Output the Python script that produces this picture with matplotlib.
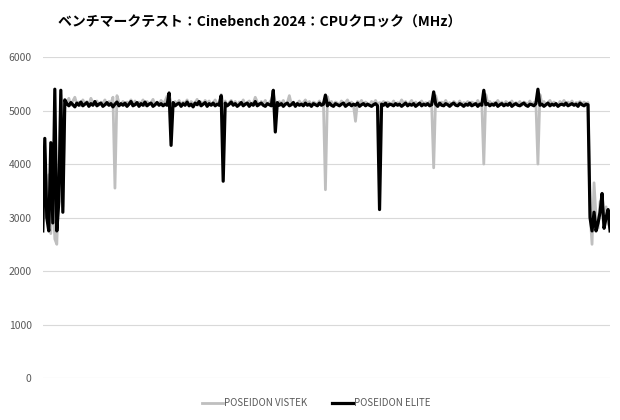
import matplotlib
matplotlib.use('Agg')
import matplotlib.pyplot as plt

plt.rcParams['font.family'] = ['Noto Sans CJK JP', 'DejaVu Sans']

title = 'ベンチマークテスト：Cinebench 2024：CPUクロック（MHz）'
series_names = ['POSEIDON VISTEK', 'POSEIDON ELITE']
yticks = [0, 1000, 2000, 3000, 4000, 5000, 6000]

# CPU clock samples (MHz)
vistek = [
    2800, 4200, 3000, 3800, 2700, 3500, 2600, 2500, 3700, 5300,
    3200, 5200, 5150, 5230, 5100, 5180, 5250, 5120, 5160, 5090,
    5200, 5130, 5170, 5110, 5230, 5150, 5120, 5180, 5100, 5160,
    5140, 5200, 5110, 5170, 5130, 5250, 3550, 5280, 5150, 5120,
    5170, 5100, 5160, 5140, 5200, 5120, 5180, 5110, 5160, 5140,
    5200, 5090, 5170, 5130, 5150, 5210, 5100, 5160, 5120, 5190,
    5140, 5180, 5270, 5300, 5150, 5100, 5170, 5130, 5190, 5110,
    5160, 5140, 5200, 5090, 5170, 5130, 5150, 5210, 5100, 5160,
    5120, 5190, 5140, 5180, 5110, 5150, 5200, 5120, 5160, 5300,
    5140, 5180, 5100, 5150, 5190, 5120, 5170, 5090, 5160, 5130,
    5200, 5110, 5150, 5180, 5120, 5140, 5250, 5160, 5100, 5170,
    5130, 5190, 5110, 5150, 5200, 5320, 5160, 5100, 5170, 5130,
    5190, 5110, 5150, 5280, 5120, 5160, 5090, 5140, 5180, 5120,
    5150, 5200, 5130, 5170, 5100, 5160, 5140, 5120, 5180, 5110,
    5150, 3520, 5260, 5130, 5170, 5100, 5160, 5140, 5110, 5180,
    5130, 5150, 5200, 5120, 5160, 5100, 4800, 5170, 5140, 5190,
    5120, 5160, 5130, 5100, 5170, 5140, 5190, 5110, 5150, 5130,
    5170, 5100, 5160, 5140, 5120, 5180, 5110, 5150, 5130, 5200,
    5140, 5170, 5110, 5150, 5190, 5120, 5160, 5100, 5140, 5180,
    5120, 5150, 5130, 5170, 5100, 3930, 5280, 5140, 5110, 5160,
    5130, 5190, 5120, 5150, 5100, 5170, 5140, 5120, 5180, 5110,
    5150, 5130, 5170, 5100, 5160, 5140, 5120, 5190, 5110, 5150,
    4000, 5300, 5140, 5170, 5110, 5150, 5130, 5190, 5120, 5160,
    5100, 5170, 5140, 5120, 5180, 5110, 5150, 5130, 5170, 5100,
    5160, 5140, 5120, 5180, 5110, 5150, 5130, 4000, 5300, 5140,
    5170, 5110, 5150, 5190, 5120, 5160, 5130, 5100, 5170, 5140,
    5190, 5120, 5160, 5130, 5180, 5110, 5150, 5140, 5170, 5120,
    5160, 5130, 5150, 3100, 2500, 3650, 3000, 2800, 3300, 3100,
    2800, 3200, 2900, 2800,
]
elite = [
    2750, 4480, 3000, 2750, 4400, 2900, 5400, 2750, 3300, 5380,
    3100, 5200, 5130, 5090, 5150, 5110, 5070, 5140, 5100, 5160,
    5090, 5120, 5150, 5080, 5130, 5100, 5170, 5090, 5120, 5140,
    5080, 5110, 5150, 5100, 5130, 5070, 5120, 5160, 5090, 5130,
    5100, 5140, 5080, 5120, 5170, 5090, 5110, 5150, 5080, 5130,
    5100, 5160, 5090, 5120, 5140, 5080, 5110, 5150, 5100, 5130,
    5090, 5120, 5100, 5330, 4350, 5150, 5090, 5120, 5140, 5080,
    5130, 5100, 5160, 5090, 5120, 5070, 5140, 5110, 5170, 5090,
    5120, 5150, 5080, 5130, 5100, 5140, 5090, 5120, 5100, 5280,
    3680, 5140, 5090, 5120, 5160, 5100, 5130, 5080, 5110, 5150,
    5090, 5120, 5140, 5080, 5130, 5100, 5170, 5090, 5120, 5140,
    5100, 5080, 5130, 5110, 5090, 5380, 4600, 5150, 5100, 5130,
    5080, 5120, 5140, 5090, 5110, 5150, 5080, 5130, 5100, 5120,
    5090, 5140, 5100, 5120, 5080, 5130, 5110, 5090, 5140, 5100,
    5120, 5290, 5090, 5140, 5100, 5080, 5130, 5110, 5090, 5120,
    5140, 5080, 5110, 5130, 5090, 5120, 5100, 5140, 5080, 5110,
    5130, 5090, 5120, 5100, 5080, 5110, 5130, 5090, 3150, 5120,
    5100, 5140, 5080, 5120, 5110, 5090, 5130, 5100, 5120, 5080,
    5110, 5140, 5090, 5120, 5100, 5130, 5080, 5110, 5140, 5090,
    5120, 5100, 5130, 5090, 5110, 5350, 5120, 5080, 5140, 5100,
    5090, 5130, 5110, 5080, 5120, 5140, 5100, 5090, 5130, 5110,
    5080, 5120, 5100, 5140, 5090, 5110, 5130, 5080, 5120, 5100,
    5380, 5110, 5130, 5090, 5120, 5100, 5140, 5080, 5110, 5130,
    5090, 5120, 5100, 5140, 5080, 5110, 5130, 5100, 5090, 5120,
    5140, 5100, 5080, 5120, 5110, 5090, 5130, 5400, 5100, 5120,
    5080, 5110, 5140, 5090, 5120, 5100, 5130, 5080, 5110, 5120,
    5100, 5140, 5090, 5110, 5130, 5100, 5120, 5080, 5140, 5110,
    5090, 5120, 5110, 3000, 2750, 3100, 2750, 2900, 3100, 3450,
    2800, 3000, 3150, 2750,
]

fig = plt.figure(figsize=(6.2, 4.2), dpi=100)
ax = fig.add_axes([0.069, 0.1, 0.915, 0.764])

ax.plot(range(len(vistek)), vistek, color='#bfbfbf', lw=2.0, label=series_names[0])
ax.plot(range(len(elite)), elite, color='black', lw=2.3, label=series_names[1])

ax.set_xlim(0, len(elite) - 1)
ax.set_ylim(0, 6000)
ax.set_yticks(yticks)
ax.set_yticklabels([str(v) for v in yticks], color='#595959', fontsize=7.5)
ax.set_xticks([])
ax.tick_params(axis='y', length=0, pad=8)
ax.grid(axis='y', color='#d9d9d9', lw=0.8)
ax.set_axisbelow(True)
for s in ax.spines.values():
    s.set_visible(False)

fig.text(0.418, 0.945, title, ha='center', va='center', fontsize=10, fontweight='bold')

fig.legend(loc='center', bbox_to_anchor=(0.51, 0.04), ncol=2, frameon=False,
           fontsize=7, labelcolor='#595959', handlelength=2.2, handletextpad=0.1,
           columnspacing=2.5)

fig.savefig('out.png', dpi=100)
plt.close(fig)
